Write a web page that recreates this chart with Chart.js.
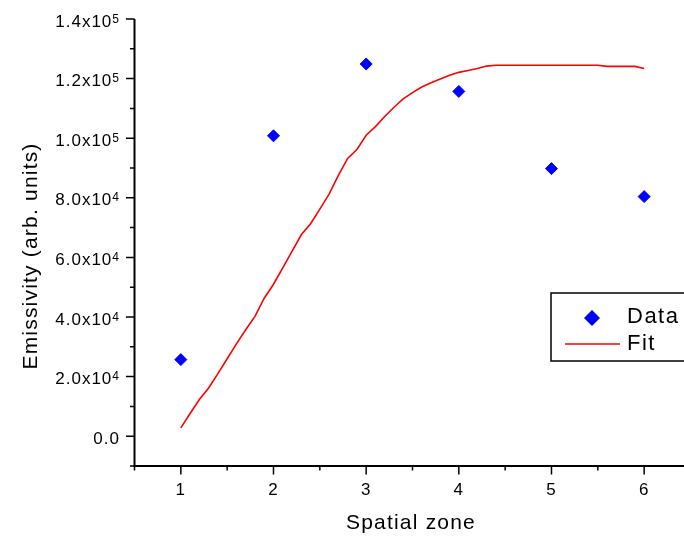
<!DOCTYPE html>
<html>
<head>
<meta charset="utf-8">
<script src="https://cdn.jsdelivr.net/npm/chart.js@4"></script>
<style>
  html, body { margin: 0; padding: 0; background: #fff; overflow: hidden; }
</style>
</head>
<body>
<canvas id="emisChart" width="684" height="537"></canvas>
<script>
// measured emissivity per zone
const zones = [1, 2, 3, 4, 5, 6];
const emissivity = [25700, 100800, 124900, 115700, 89800, 80400];

// fit curve
const fitZone = [1.0, 1.1, 1.2, 1.3, 1.4, 1.5, 1.6, 1.7, 1.8, 1.9,
                 2.0, 2.1, 2.2, 2.3, 2.4, 2.5, 2.6, 2.7, 2.8, 2.9,
                 3.0, 3.1, 3.2, 3.3, 3.4, 3.5, 3.6, 3.7, 3.8, 3.9,
                 4.0, 4.1, 4.2, 4.3, 4.4, 4.5, 4.6, 4.7, 4.8, 4.9,
                 5.0, 5.1, 5.2, 5.3, 5.4, 5.5, 5.6, 5.7, 5.8, 5.9, 6.0];
const fitValue = [2800, 7600, 12300, 16200, 21000, 26000, 31000, 35700, 40200, 46300,
                  51000, 56500, 62000, 67600, 71300, 76200, 81200, 87500, 93200, 96200,
                  101000, 103900, 107300, 110400, 113200, 115300, 117200, 118600, 119900, 121100,
                  122100, 122700, 123400, 124200, 124500, 124500, 124500, 124500, 124500, 124500,
                  124500, 124500, 124500, 124500, 124500, 124500, 124100, 124100, 124100, 124100, 123400];

const xTickValues = [1, 2, 3, 4, 5, 6];
const yTickValues = [0, 20000, 40000, 60000, 80000, 100000, 120000, 140000];
const yTickMantissa = ['0.0', '2.0x10', '4.0x10', '6.0x10', '8.0x10', '1.0x10', '1.2x10', '1.4x10'];
const yTickExponent = ['', '4', '4', '4', '4', '5', '5', '5'];
const legendLabels = ['Data', 'Fit'];

const FONT = '"Liberation Sans", Arial, sans-serif';

// Origin-style axes: left + bottom only, outward ticks, superscript labels
const originAxes = {
  id: 'originAxes',
  afterDraw(chart) {
    const { ctx, chartArea: a, scales: { x, y } } = chart;
    ctx.save();
    ctx.strokeStyle = '#000';
    ctx.fillStyle = '#000';

    ctx.lineWidth = 2;
    ctx.beginPath();
    ctx.moveTo(a.left, a.top);
    ctx.lineTo(a.left, a.bottom);
    ctx.lineTo(a.right, a.bottom);
    ctx.stroke();

    ctx.lineWidth = 1.5;
    ctx.beginPath();
    for (let k = -1; k <= 14; k++) {
      const py = y.getPixelForValue(k * 10000);
      ctx.moveTo(a.left, py);
      ctx.lineTo(a.left - (k % 2 === 0 ? 8.5 : 4.5), py);
    }
    for (let k = 1; k <= 13; k++) {
      const px = x.getPixelForValue(k * 0.5);
      ctx.moveTo(px, a.bottom);
      ctx.lineTo(px, a.bottom + (k % 2 === 0 ? 8.5 : 4.5));
    }
    ctx.stroke();

    ctx.letterSpacing = '1px';
    ctx.textBaseline = 'alphabetic';
    const labelRight = 120;
    yTickValues.forEach((v, i) => {
      const py = y.getPixelForValue(v);
      let supW = 0;
      if (yTickExponent[i]) {
        ctx.font = '12px ' + FONT;
        supW = ctx.measureText(yTickExponent[i]).width;
        ctx.textAlign = 'left';
        ctx.fillText(yTickExponent[i], labelRight - supW, py + 3.5);
      }
      ctx.font = '17px ' + FONT;
      ctx.textAlign = 'right';
      ctx.fillText(yTickMantissa[i], labelRight - supW, py + 7.5);
    });

    ctx.textAlign = 'center';
    ctx.font = '17px ' + FONT;
    xTickValues.forEach(v => {
      ctx.fillText(String(v), x.getPixelForValue(v), 495);
    });

    // axis titles
    ctx.font = '21px ' + FONT;
    ctx.letterSpacing = '1.2px';
    ctx.fillText('Spatial zone', 411, 529);
    ctx.save();
    ctx.translate(37, 256);
    ctx.rotate(-Math.PI / 2);
    ctx.fillText('Emissivity (arb. units)', 0, 0);
    ctx.restore();

    // legend box (runs off the right edge like the original)
    ctx.lineWidth = 1.5;
    ctx.strokeRect(551, 293, 200, 68);
    ctx.fillStyle = '#0000ff';
    ctx.beginPath();
    ctx.moveTo(592, 310); ctx.lineTo(600, 318); ctx.lineTo(592, 326); ctx.lineTo(584, 318);
    ctx.closePath();
    ctx.fill();
    ctx.strokeStyle = '#ff0000';
    ctx.lineWidth = 1.6;
    ctx.beginPath();
    ctx.moveTo(565, 344); ctx.lineTo(620, 344);
    ctx.stroke();
    ctx.fillStyle = '#000';
    ctx.textAlign = 'left';
    ctx.font = '22px ' + FONT;
    ctx.letterSpacing = '1.5px';
    ctx.fillText(legendLabels[0], 627, 323);
    ctx.fillText(legendLabels[1], 627, 350);

    ctx.restore();
  }
};

const ctx = document.getElementById('emisChart').getContext('2d');
new Chart(ctx, {
  type: 'scatter',
  data: {
    datasets: [
      {
        label: legendLabels[0],
        data: zones.map((z, i) => ({ x: z, y: emissivity[i] })),
        pointStyle: 'rectRot',
        pointRadius: 6,
        backgroundColor: '#0000ff',
        borderColor: '#0000ff',
        borderWidth: 1,
        order: 1
      },
      {
        label: legendLabels[1],
        data: fitZone.map((z, i) => ({ x: z, y: fitValue[i] })),
        showLine: true,
        pointRadius: 0,
        borderColor: '#ff0000',
        borderWidth: 1.6,
        order: 2
      }
    ]
  },
  options: {
    responsive: false,
    animation: false,
    devicePixelRatio: 1,
    layout: { autoPadding: false, padding: { left: 134.5, right: 0, top: 19, bottom: 71 } },
    scales: {
      // axis is cut by the right edge of the picture a little before 6.5
      x: { type: 'linear', min: 0.5, max: 6.43, display: false },
      y: { type: 'linear', min: -10000, max: 140000, display: false }
    },
    plugins: {
      legend: { display: false },
      tooltip: { enabled: false }
    }
  },
  plugins: [originAxes]
});
</script>
</body>
</html>
